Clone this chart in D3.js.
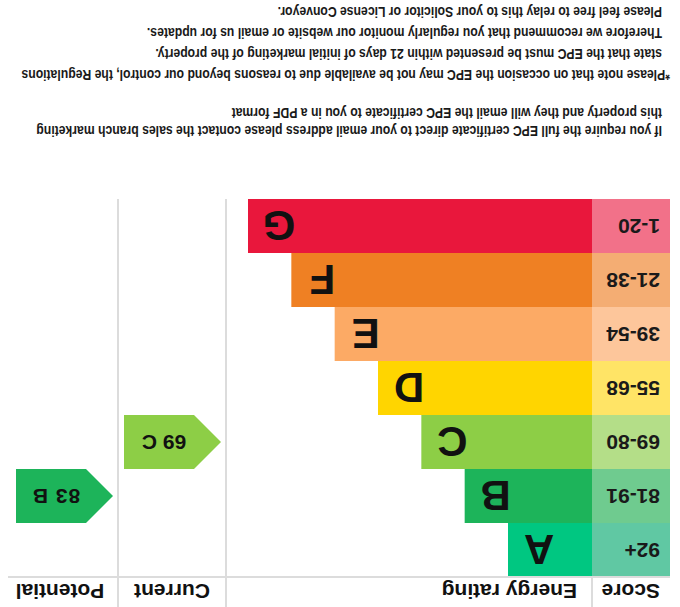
<!DOCTYPE html>
<html>
<head>
<meta charset="utf-8">
<script src="https://cdnjs.cloudflare.com/ajax/libs/d3/7.8.5/d3.min.js"></script>
<style>
  html, body { margin: 0; padding: 0; background: #fff; }
  svg { display: block; }
</style>
</head>
<body>
<script>
// ---- Data ----
const bands = ["A", "B", "C", "D", "E", "F", "G"];
const scoreRanges = ["92+", "81-91", "69-80", "55-68", "39-54", "21-38", "1-20"];
const barSteps = [1, 2, 3, 4, 5, 6, 7];
const barColors = ["#00c781", "#1db45a", "#8dce46", "#ffd500", "#fcaa65", "#ef8023", "#e9173c"];
const scoreColors = ["#60c8a3", "#6fcb8f", "#b4de88", "#ffe466", "#fdc69b", "#f4ad73", "#f27189"];
const headers = ["Score", "Energy rating", "Current", "Potential"];
const ratingColumns = ["Current", "Potential"];
const ratingValues = [69, 83];
const ratingBands = ["C", "B"];
const notes = [
  "If you require the full EPC certificate direct to your email address please contact the sales branch marketing",
  "this property and they will email the EPC certificate to you in a PDF format",
  "*Please note that on occasion the EPC may not be available due to reasons beyond our control, the Regulations",
  "state that the EPC must be presented within 21 days of initial marketing of the property.",
  "Therefore we recommend that you regularly monitor our website or email us for updates.",
  "Please feel free to relay this to your Solicitor or License Conveyor."
];

// ---- Layout ----
const W = 680, H = 607;
const svg = d3.select("body").append("svg").attr("width", W).attr("height", H);
// The reference chart is shown upside down (rotated 180 degrees)
const g = svg.append("g").attr("transform", `rotate(180 ${W / 2} ${H / 2})`);

const y = d3.scaleBand().domain(bands).range([30, 408]);
const scoreX0 = 10, barX0 = 88;
const barEnd = d3.scaleLinear().domain([1, 7]).range([172, 432]);
const colX = d3.scaleBand().domain(ratingColumns).range([454, 670]);
const gridColor = "#dcdcdc";
const FONT = "'Liberation Sans', Arial, Helvetica, sans-serif";

// Score column cells
g.selectAll("rect.score").data(bands).join("rect")
  .attr("x", scoreX0).attr("y", d => y(d))
  .attr("width", barX0 - scoreX0).attr("height", y.bandwidth())
  .attr("fill", (d, i) => scoreColors[i]);

g.selectAll("text.score").data(bands).join("text")
  .attr("x", 20).attr("y", d => y(d) + y.bandwidth() / 2 + 7.5)
  .attr("font-family", FONT).attr("font-weight", "bold").attr("font-size", 21)
  .attr("fill", "#1a1a1a")
  .text((d, i) => scoreRanges[i]);

// Bars
g.selectAll("rect.bar").data(bands).join("rect")
  .attr("x", barX0).attr("y", d => y(d))
  .attr("width", (d, i) => barEnd(barSteps[i]) - barX0).attr("height", y.bandwidth())
  .attr("fill", (d, i) => barColors[i]);

g.selectAll("text.bar").data(bands).join("text")
  .attr("x", (d, i) => barEnd(barSteps[i]) - 31)
  .attr("y", d => y(d) + y.bandwidth() / 2 + 15)
  .attr("text-anchor", "middle")
  .attr("font-family", FONT).attr("font-weight", "bold").attr("font-size", 42)
  .attr("fill", "#111")
  .text(d => d);

// Grid lines
colX.domain().forEach(c => {
  g.append("line").attr("x1", colX(c)).attr("x2", colX(c)).attr("y1", 0).attr("y2", 408)
    .attr("stroke", gridColor).attr("stroke-width", 2);
});
g.append("line").attr("x1", barX0).attr("x2", barX0).attr("y1", 0).attr("y2", 30)
  .attr("stroke", gridColor).attr("stroke-width", 2);
g.append("line").attr("x1", scoreX0).attr("x2", 672).attr("y1", 30).attr("y2", 30)
  .attr("stroke", gridColor).attr("stroke-width", 2);

// Headers
const headerX = [20, 103, colX("Current") + colX.bandwidth() / 2, colX("Potential") + colX.bandwidth() / 2 + 4];
const headerAnchor = ["start", "start", "middle", "middle"];
g.selectAll("text.header").data(headers).join("text")
  .attr("x", (d, i) => headerX[i]).attr("y", 23)
  .attr("text-anchor", (d, i) => headerAnchor[i])
  .attr("font-family", FONT).attr("font-weight", "bold").attr("font-size", 21)
  .attr("fill", "#111")
  .text(d => d);

// Rating arrows
const arrowLen = 97, tipDepth = 27;
ratingColumns.forEach((c, i) => {
  const x0 = colX(c) + 5;
  const yt = y(ratingBands[i]), h = y.bandwidth();
  const band = ratingBands[i];
  const color = barColors[bands.indexOf(band)];
  const p = d3.path();
  p.moveTo(x0, yt + h / 2);
  p.lineTo(x0 + tipDepth, yt);
  p.lineTo(x0 + arrowLen, yt);
  p.lineTo(x0 + arrowLen, yt + h);
  p.lineTo(x0 + tipDepth, yt + h);
  p.closePath();
  g.append("path").attr("d", p.toString()).attr("fill", color);
  g.append("text")
    .attr("x", x0 + 57).attr("y", yt + h / 2 + 7.5)
    .attr("text-anchor", "middle")
    .attr("font-family", FONT).attr("font-weight", "bold").attr("font-size", 21)
    .attr("fill", "#111")
    .attr("letter-spacing", i === 1 ? 1 : 0)
    .text(ratingValues[i] + " " + band);
});

// Notes (condensed bold text: one common horizontal scale, like a narrow font)
const noteY = [481, 499, 537, 558, 579, 600];
const noteX = [18, 18, 10, 18, 18, 18];
const notes_ = g.selectAll("text.note").data(notes).join("text")
  .attr("class", "note")
  .attr("x", 0).attr("y", 0)
  .attr("font-family", FONT)
  .attr("font-weight", "bold").attr("font-size", 14)
  .attr("fill", "#1a1a1a")
  .text(d => d);
// reference widths of the asterisk line and the "state that" line set the condensing factor
const refW = [645, 510];
const l3 = notes_.nodes()[2].getComputedTextLength();
const l4 = notes_.nodes()[3].getComputedTextLength();
const sx = (refW[0] / l3 + refW[1] / l4) / 2;
notes_.attr("transform", (d, i) => `translate(${noteX[i]},${noteY[i]}) scale(${sx},1)`);
</script>
</body>
</html>
